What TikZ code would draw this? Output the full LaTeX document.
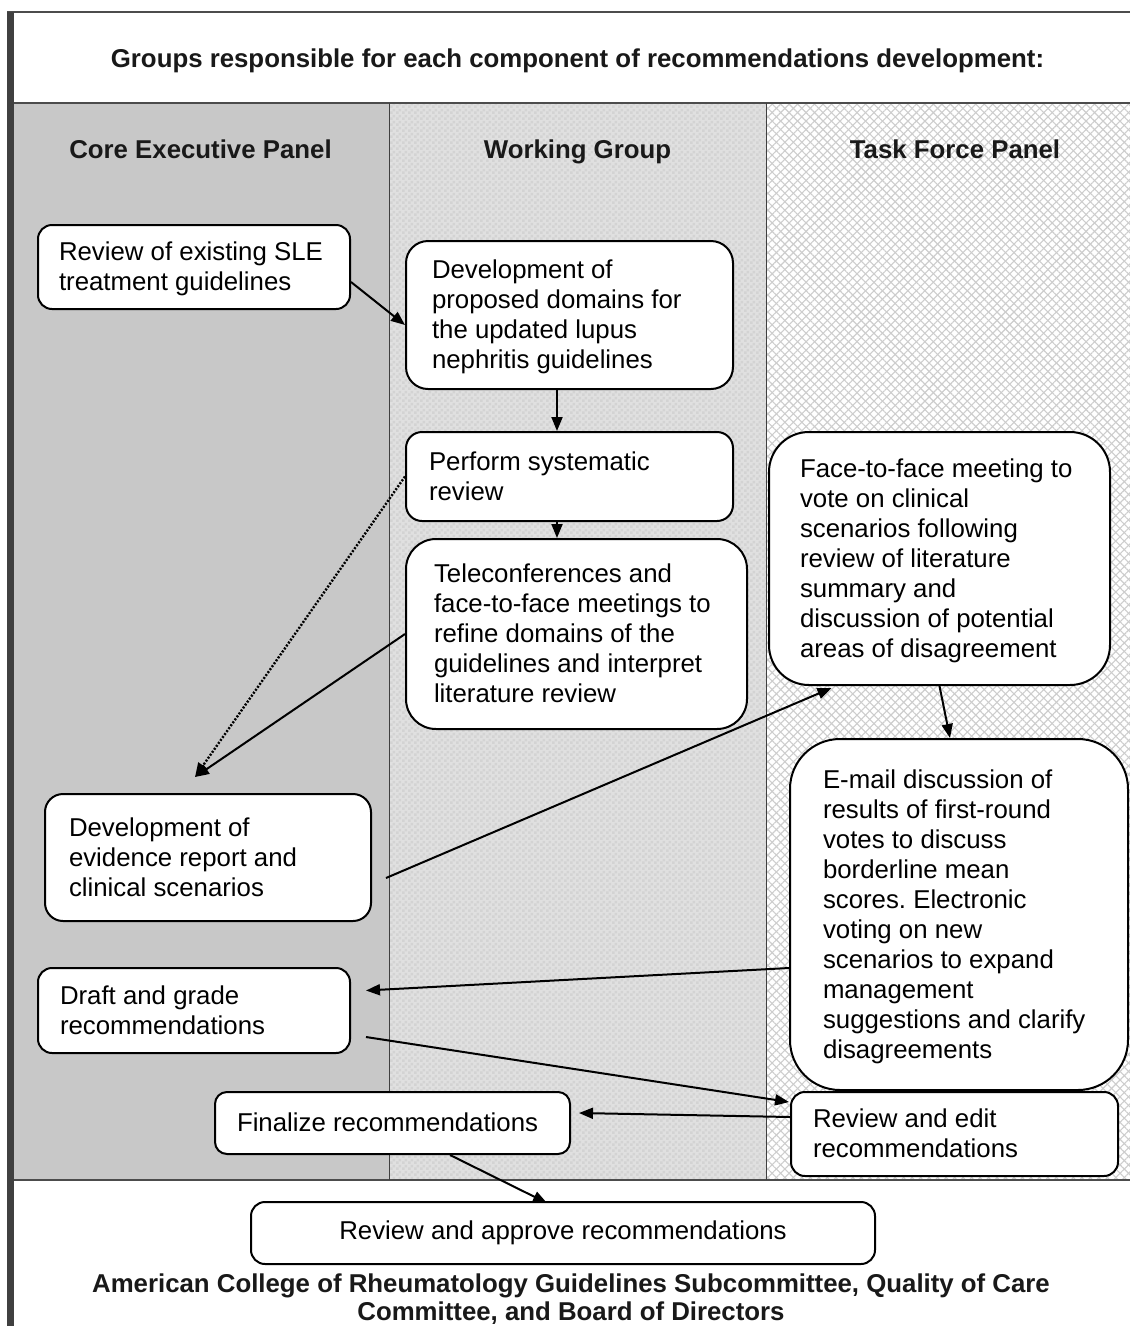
\documentclass[tikz,border=0pt]{standalone}
\usepackage{fontspec}
\setmainfont{Liberation Sans}
\usetikzlibrary{arrows.meta,calc,patterns.meta}
\definecolor{corefill}{HTML}{C8C8C8}
\definecolor{wgfill}{HTML}{E0E0E0}
\definecolor{wgdark}{HTML}{D3D3D3}
\definecolor{tfgray}{HTML}{CDCDCD}
\definecolor{bar}{HTML}{404040}
\tikzdeclarepattern{name=wgcheck, type=uncolored,
  bounding box={(0pt,0pt) and (6pt,6pt)}, tile size={(6pt,6pt)},
  code={\fill (0pt,0pt) rectangle (3pt,3pt); \fill (3pt,3pt) rectangle (6pt,6pt);}}
\newcommand\tl[2]{\makebox[#1][l]{\raisebox{-2.5pt}[\height][\depth]{\begin{tabular}{@{}l@{}}#2\end{tabular}}}}
\tikzset{
  box/.style={draw=black, line width=2pt, fill=white, inner ysep=0pt,
    font=\fontsize{25.8}{30}\selectfont\frenchspacing},
  arr/.style={line width=2pt, -{Triangle[length=14pt,width=11pt]}},
  hdr/.style={font=\bfseries\fontsize{25.8}{28}\selectfont, text=black!90, anchor=base},
  sepline/.style={line width=1.5pt, draw=black!70}
}
\begin{document}
\begin{tikzpicture}[x=1pt,y=-1pt]
\useasboundingbox (0,0) rectangle (1130,1326);
\fill[white] (0,0) rectangle (1130,1326);
% columns
\fill[corefill] (14,103) rectangle (389,1180);
\fill[wgfill] (389,103) rectangle (766,1180);
\fill[pattern=wgcheck, pattern color=wgdark] (389,103) rectangle (766,1180);
\fill[white] (766,103) rectangle (1130,1180);
\fill[pattern={Lines[angle=45,distance=6pt,line width=1.1pt]}, pattern color=tfgray] (766,103) rectangle (1130,1180);
\fill[pattern={Lines[angle=-45,distance=6pt,line width=1.1pt]}, pattern color=tfgray] (766,103) rectangle (1130,1180);
\draw[sepline] (7,12) -- (1130,12);
\draw[sepline] (14,103) -- (1130,103);
\draw[sepline] (14,1180) -- (1130,1180);
\draw[line width=1pt, black!75] (389,103) -- (389,1180);
\draw[line width=1pt, black!75] (766,103) -- (766,1180);
\fill[bar] (7,12) rectangle (14,1326);
% headings
\node[hdr] (title) at (577.5,67) {Groups responsible for each component of recommendations development:};
\node[hdr] (hcore) at (200.5,158) {Core Executive Panel};
\node[hdr] (hwg) at (577.5,158) {Working Group};
\node[hdr] (htf) at (955,158) {Task Force Panel};
\node[hdr, anchor=center, align=center] (acr) at (571,1299.5) {American College of Rheumatology Guidelines Subcommittee, Quality of Care\\Committee, and Board of Directors};
% boxes
\node[box, minimum width=312pt, minimum height=84pt, inner xsep=21pt, rounded corners=14pt] (rev) at (194,267)
  {\tl{270pt}{Review of existing SLE\\treatment guidelines}};
\node[box, minimum width=327pt, minimum height=148pt, inner xsep=26pt, rounded corners=22pt] (dev) at (569.5,315)
  {\tl{275pt}{Development of\\proposed domains for\\the updated lupus\\nephritis guidelines}};
\node[box, minimum width=327pt, minimum height=89pt, inner xsep=23pt, rounded corners=16pt] (sys) at (569.5,476.5)
  {\tl{281pt}{Perform systematic\\review}};
\node[box, minimum width=341pt, minimum height=190pt, inner xsep=28pt, rounded corners=30pt] (tele) at (576.5,634)
  {\tl{285pt}{Teleconferences and\\face-to-face meetings to\\refine domains of the\\guidelines and interpret\\literature review}};
\node[box, minimum width=341pt, minimum height=253pt, inner xsep=31pt, rounded corners=40pt] (f2f) at (939.5,558.5)
  {\tl{279pt}{Face-to-face meeting to\\vote on clinical\\scenarios following\\review of literature\\summary and\\discussion of potential\\areas of disagreement}};
\node[box, minimum width=326pt, minimum height=127pt, inner xsep=24pt, rounded corners=18pt] (evid) at (208,857.5)
  {\tl{278pt}{Development of\\evidence report and\\clinical scenarios}};
\node[box, minimum width=338pt, minimum height=351pt, inner xsep=33pt, rounded corners=50pt] (email) at (959,914.5)
  {\tl{272pt}{E-mail discussion of\\results of first-round\\votes to discuss\\borderline mean\\scores. Electronic\\voting on new\\scenarios to expand\\management\\suggestions and clarify\\disagreements}};
\node[box, minimum width=312pt, minimum height=85pt, inner xsep=22pt, rounded corners=14pt] (draft) at (194,1010.5)
  {\tl{268pt}{Draft and grade\\recommendations}};
\node[box, minimum width=327pt, minimum height=84pt, inner xsep=22pt, rounded corners=14pt] (rae) at (954.5,1134)
  {\tl{283pt}{Review and edit\\recommendations}};
\node[box, minimum width=355pt, minimum height=62pt, inner xsep=22pt, rounded corners=12pt] (fin) at (392.5,1123)
  {\tl{311pt}{Finalize recommendations}};
\node[box, minimum width=624pt, minimum height=62pt, rounded corners=14pt] (appr) at (563,1233)
  {Review and approve recommendations};
% connectors
\coordinate (evtip) at ($(evid.north)+(-13,-16)$);
\draw[arr] ($(rev.east)+(0,15)$) -- ($(dev.west)+(0,10)$);
\draw[arr] ($(dev.south)+(-12.5,0)$) -- ($(sys.north)+(-12.5,0)$);
\draw[arr] ($(sys.south)+(-12.5,0)$) -- ($(tele.north)+(-19.5,0)$);
\draw[arr, line width=2.4pt, dash pattern=on 2pt off 1.6pt] (sys.west) -- (evtip);
\draw[arr] (tele.west) -- (evtip);
\draw[arr] ($(evid.east)+(14,20.5)$) -- ($(f2f.south)+(-108,2)$);
\draw[arr] (f2f.south) -- ($(email.north)+(-9,0)$);
\draw[arr] ($(email.west)+(0,53.5)$) -- ($(draft.east)+(15,-20)$);
\draw[arr] ($(draft.east)+(15,26.5)$) -- ($(rae.west)+(-1,-32)$);
\draw[arr] ($(rae.west)+(0,-17)$) -- ($(fin.east)+(8,-10)$);
\draw[arr] ($(fin.south)+(57.5,0)$) -- ($(appr.north)+(-16,2)$);
\end{tikzpicture}
\end{document}
